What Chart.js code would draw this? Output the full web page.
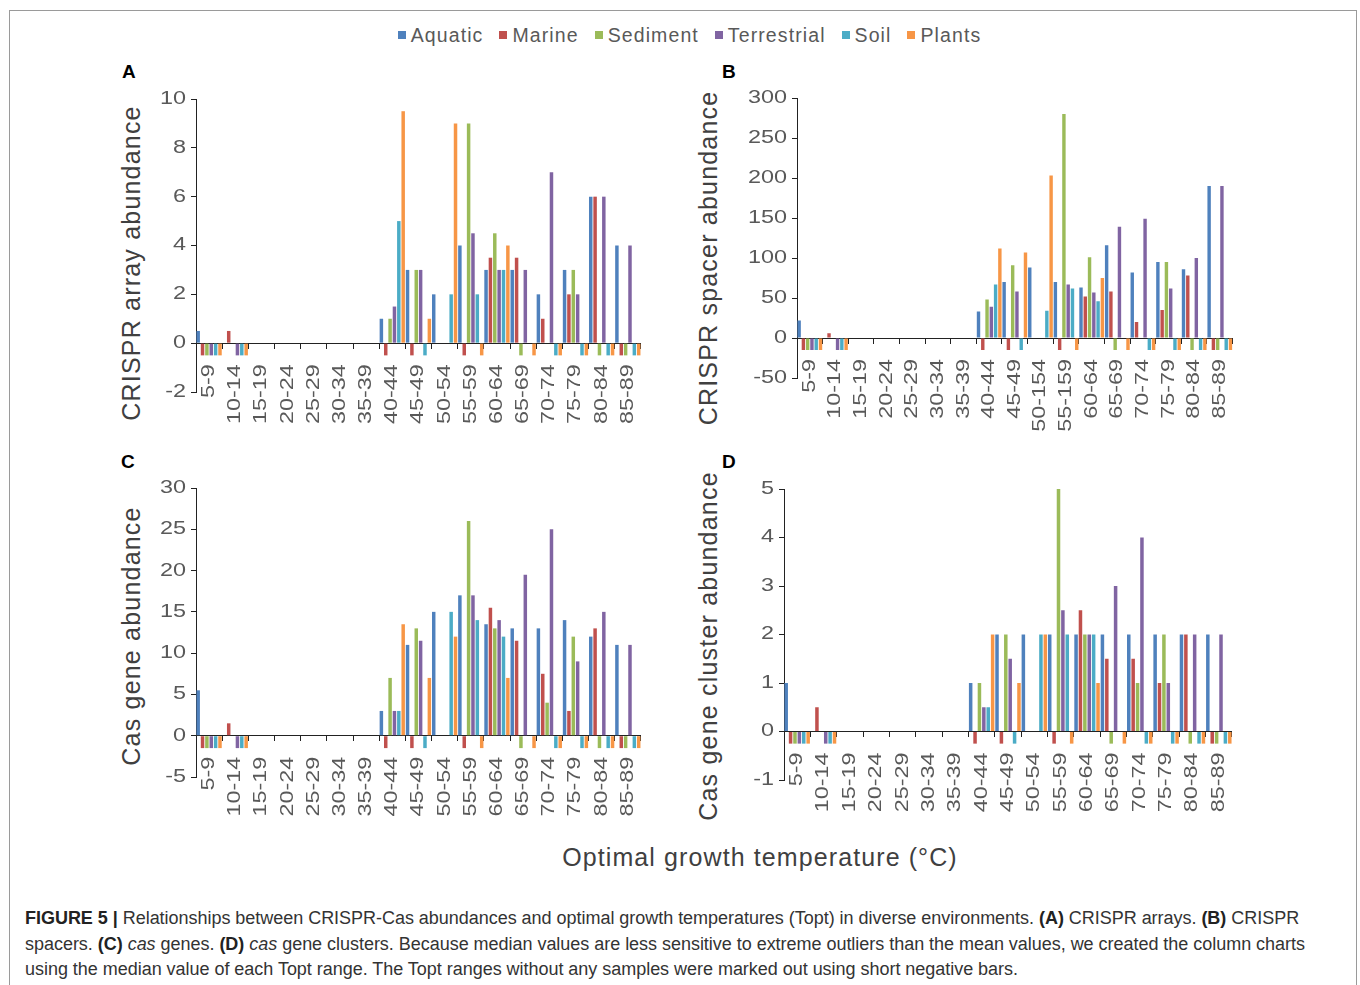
<!DOCTYPE html>
<html>
<head>
<meta charset="utf-8">
<title>Figure 5</title>
<script src="https://cdn.jsdelivr.net/npm/chart.js"></script>
<style>
  body { margin: 0; background: #fff; font-family: "Liberation Sans", Arial, sans-serif; }
  #page { position: relative; width: 1360px; height: 985px; overflow: hidden; }
  .frame { position: absolute; left: 9px; top: 10px; width: 1346px; height: 1000px; border: 1px solid #9a9a9a; }
  canvas { position: absolute; }
  .legend { position: absolute; left: 0; top: 24px; width: 1379px; display: flex; justify-content: center;
            font-size: 19.5px; line-height: 22px; letter-spacing: 1.1px; color: #595959; }
  .legend span.item { display: flex; align-items: center; margin-right: 16px; }
  .legend span.item:last-child { margin-right: 0; }
  .legend i { display: inline-block; width: 8px; height: 8px; margin-right: 5px; }
  .tag { position: absolute; font-weight: bold; font-size: 19px; line-height: 19px; color: #000; }
  .ytitle { position: absolute; transform: translate(-50%, -50%) rotate(-90deg); white-space: nowrap;
            font-size: 25px; line-height: 28px; letter-spacing: 1.2px; color: #404040; }
  .xtitle { position: absolute; left: 760px; top: 857px; transform: translate(-50%, -50%); white-space: nowrap;
            font-size: 25px; letter-spacing: 1.1px; color: #404040; }
  .caption { position: absolute; left: 25px; top: 906px; font-size: 18px; line-height: 25.5px; color: #333;
             letter-spacing: -0.03px; white-space: nowrap; }
  .caption b { color: #222; }
</style>
</head>
<body>
<div id="page">
  <div class="frame"></div>
  <div class="legend" id="legend"></div>

  <div class="tag" style="left:122px; top:62px;">A</div>
  <div class="tag" style="left:722px; top:62px;">B</div>
  <div class="tag" style="left:121px; top:452px;">C</div>
  <div class="tag" style="left:722px; top:452px;">D</div>

  <div class="ytitle" style="left:131px; top:263px;">CRISPR array abundance</div>
  <div class="ytitle" style="left:708px; top:258px;">CRISPR spacer abundance</div>
  <div class="ytitle" style="left:131px; top:636px;">Cas gene abundance</div>
  <div class="ytitle" style="left:708px; top:646px;">Cas gene cluster abundance</div>

  <canvas id="chartA" width="540" height="373" style="left:126px; top:79px;"></canvas>
  <canvas id="chartB" width="531" height="360" style="left:727px; top:78px;"></canvas>
  <canvas id="chartC" width="540" height="369" style="left:126px; top:468px;"></canvas>
  <canvas id="chartD" width="543" height="371" style="left:714px; top:469px;"></canvas>

  <div class="xtitle">Optimal growth temperature (°C)</div>

  <div class="caption">
    <b>FIGURE 5 |</b> Relationships between CRISPR-Cas abundances and optimal growth temperatures (Topt) in diverse environments. <b>(A)</b> CRISPR arrays. <b>(B)</b> CRISPR<br>
    spacers. <b>(C)</b> <i>cas</i> genes. <b>(D)</b> <i>cas</i> gene clusters. Because median values are less sensitive to extreme outliers than the mean values, we created the column charts<br>
    using the median value of each Topt range. The Topt ranges without any samples were marked out using short negative bars.
  </div>
</div>

<script>
// Topt ranges (panel B has the typos of the original figure)
const categories = ['5-9', '10-14', '15-19', '20-24', '25-29', '30-34', '35-39', '40-44', '45-49',
                    '50-54', '55-59', '60-64', '65-69', '70-74', '75-79', '80-84', '85-89'];
const categoriesB = ['5-9', '10-14', '15-19', '20-24', '25-29', '30-34', '35-39', '40-44', '45-49',
                     '50-154', '55-159', '60-64', '65-69', '70-74', '75-79', '80-84', '85-89'];

const seriesNames = ['Aquatic', 'Marine', 'Sediment', 'Terrestrial', 'Soil', 'Plants'];
const seriesColors = ['#4F81BD', '#C0504D', '#9BBB59', '#8064A2', '#4BACC6', '#F79646'];

// A - CRISPR arrays (short negative bars = no samples)
const aquaticA     = [0.5, 0, 0, 0, 0, 0, 0, 1, 3, 2, 4, 3, 3, 2, 3, 6, 4];
const marineA      = [-0.5, 0.5, 0, 0, 0, 0, 0, -0.5, -0.5, 0, -0.5, 3.5, 3.5, 1, 2, 6, -0.5];
const sedimentA    = [-0.5, 0, 0, 0, 0, 0, 0, 1, 3, 0, 9, 4.5, -0.5, 0, 3, -0.5, -0.5];
const terrestrialA = [-0.5, -0.5, 0, 0, 0, 0, 0, 1.5, 3, 0, 4.5, 3, 3, 7, 2, 6, 4];
const soilA        = [-0.5, -0.5, 0, 0, 0, 0, 0, 5, -0.5, 2, 2, 3, 0, -0.5, -0.5, -0.5, -0.5];
const plantsA      = [-0.5, -0.5, 0, 0, 0, 0, 0, 9.5, 1, 9, -0.5, 4, -0.5, -0.5, -0.5, -0.5, -0.5];

// B - CRISPR spacers
const aquaticB     = [22, 0, 0, 0, 0, 0, 0, 33, 70, 88, 70, 63, 116, 82, 95, 86, 190];
const marineB      = [-15, 6, 0, 0, 0, 0, 0, -15, -15, 0, -15, 52, 58, 20, 35, 78, -15];
const sedimentB    = [-15, 0, 0, 0, 0, 0, 0, 48, 91, 0, 280, 101, -15, 0, 95, -15, -15];
const terrestrialB = [-15, -15, 0, 0, 0, 0, 0, 39, 58, 0, 67, 57, 139, 149, 62, 100, 190];
const soilB        = [-15, -15, 0, 0, 0, 0, 0, 67, -15, 34, 62, 46, 0, -15, -15, -15, -15];
const plantsB      = [-15, -15, 0, 0, 0, 0, 0, 112, 107, 203, -15, 75, -15, -15, -15, -15, -15];

// C - cas genes
const aquaticC     = [5.5, 0, 0, 0, 0, 0, 0, 3, 11, 15, 17, 13.5, 13, 13, 14, 12, 11];
const marineC      = [-1.5, 1.5, 0, 0, 0, 0, 0, -1.5, -1.5, 0, -1.5, 15.5, 11.5, 7.5, 3, 13, -1.5];
const sedimentC    = [-1.5, 0, 0, 0, 0, 0, 0, 7, 13, 0, 26, 13, -1.5, 4, 12, -1.5, -1.5];
const terrestrialC = [-1.5, -1.5, 0, 0, 0, 0, 0, 3, 11.5, 0, 17, 14, 19.5, 25, 9, 15, 11];
const soilC        = [-1.5, -1.5, 0, 0, 0, 0, 0, 3, -1.5, 15, 14, 12, 0, -1.5, -1.5, -1.5, -1.5];
const plantsC      = [-1.5, -1.5, 0, 0, 0, 0, 0, 13.5, 7, 12, -1.5, 7, -1.5, -1.5, -1.5, -1.5, -1.5];

// D - cas gene clusters
const aquaticD     = [1, 0, 0, 0, 0, 0, 0, 1, 2, 2, 2, 2, 2, 2, 2, 2, 2];
const marineD      = [-0.25, 0.5, 0, 0, 0, 0, 0, -0.25, -0.25, 0, -0.25, 2.5, 1.5, 1.5, 1, 2, -0.25];
const sedimentD    = [-0.25, 0, 0, 0, 0, 0, 0, 1, 2, 0, 5, 2, -0.25, 1, 2, -0.25, -0.25];
const terrestrialD = [-0.25, -0.25, 0, 0, 0, 0, 0, 0.5, 1.5, 0, 2.5, 2, 3, 4, 1, 2, 2];
const soilD        = [-0.25, -0.25, 0, 0, 0, 0, 0, 0.5, -0.25, 2, 2, 2, 0, -0.25, -0.25, -0.25, -0.25];
const plantsD      = [-0.25, -0.25, 0, 0, 0, 0, 0, 2, 1, 2, -0.25, 1, -0.25, -0.25, -0.25, -0.25, -0.25];

const FONT = '"Liberation Sans", Arial, sans-serif';
const TICK_STRETCH = 1.3; // tick labels in the figure are drawn wide

// shared legend
const legendEl = document.getElementById('legend');
seriesNames.forEach((name, i) => {
    const item = document.createElement('span');
    item.className = 'item';
    item.innerHTML = `<i style="background:${seriesColors[i]}"></i>${name}`;
    legendEl.appendChild(item);
});

// widen the tick text around its anchor point
const wideText = {
    id: 'wideText',
    beforeInit(chart) {
        const ctx = chart.ctx;
        const fill = ctx.fillText;
        ctx.fillText = function (text, x, y) {
            this.save();
            this.translate(x, y);
            this.scale(TICK_STRETCH, 1);
            fill.call(this, text, 0, 0);
            this.restore();
        };
    }
};

function drawPanel(id, labels, series, yMin, yMax, step) {
    new Chart(document.getElementById(id), {
        type: 'bar',
        data: {
            labels: labels,
            datasets: series.map((values, i) => ({
                label: seriesNames[i],
                data: values,
                backgroundColor: seriesColors[i],
                borderWidth: 0,
                barPercentage: 0.8,
                categoryPercentage: 1
            }))
        },
        options: {
            responsive: false,
            animation: false,
            events: [],
            layout: { padding: { top: 20, right: 20, bottom: 60, left: 0 } },
            plugins: {
                legend: { display: false },
                tooltip: { enabled: false }
            },
            scales: {
                x: {
                    position: { y: 0 },
                    offset: true,
                    grid: { drawOnChartArea: false, drawTicks: true, tickLength: 5, color: '#222', offset: true },
                    border: { display: true, color: '#222', width: 1 },
                    ticks: {
                        autoSkip: false, minRotation: 90, maxRotation: 90, padding: 16,
                        color: '#595959', font: { family: FONT, size: 18 }
                    }
                },
                y: {
                    min: yMin,
                    max: yMax,
                    grid: { drawOnChartArea: false, drawTicks: true, tickLength: 5, color: '#222' },
                    border: { display: true, color: '#222', width: 1 },
                    ticks: {
                        stepSize: step, padding: 5,
                        color: '#595959', font: { family: FONT, size: 18 }
                    },
                    afterFit: (scale) => { scale.width = 70; }
                }
            }
        },
        plugins: [wideText]
    });
}

drawPanel('chartA', categories, [aquaticA, marineA, sedimentA, terrestrialA, soilA, plantsA], -2, 10, 2);
drawPanel('chartB', categoriesB, [aquaticB, marineB, sedimentB, terrestrialB, soilB, plantsB], -50, 300, 50);
drawPanel('chartC', categories, [aquaticC, marineC, sedimentC, terrestrialC, soilC, plantsC], -5, 30, 5);
drawPanel('chartD', categories, [aquaticD, marineD, sedimentD, terrestrialD, soilD, plantsD], -1, 5, 1);
</script>
</body>
</html>
